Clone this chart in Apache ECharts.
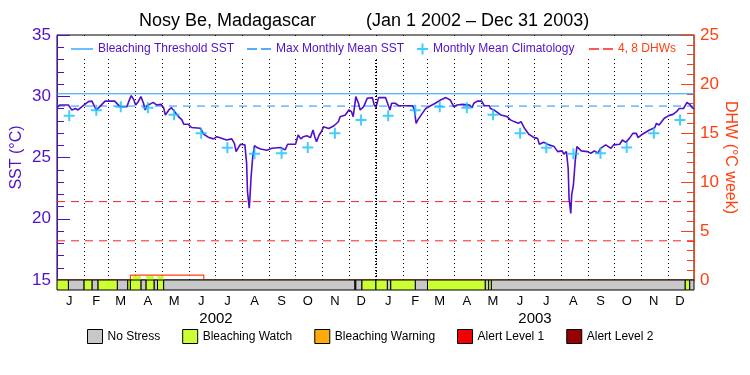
<!DOCTYPE html>
<html>
<head>
<meta charset="utf-8">
<script src="https://cdn.jsdelivr.net/npm/echarts@6/dist/echarts.min.js"></script>
<style>html,body{margin:0;padding:0;background:#fff}#main{width:750px;height:375px}</style>
</head>
<body>
<div id="main"></div>
<script>
// SST (day offset from Jan 1 2002, value in degC)
var sstDay = [0, 3, 13, 15, 17, 21, 24, 30, 36, 40, 43, 45, 49, 55, 66, 72, 80, 82, 85, 88, 90, 93, 96, 99, 101, 103, 106, 110, 114, 119, 122, 124, 128, 131, 134, 139, 143, 145, 150, 154, 164, 168, 173, 179, 183,
  185, 189, 194, 200, 203, 205, 207, 210, 215, 217, 218, 220, 221, 222, 224, 226, 229, 233, 240, 246, 256, 258, 261, 264, 273, 276, 279, 282, 284, 286, 290, 293, 295, 297, 300, 303, 305, 311, 317, 322, 324, 330, 334, 337, 339, 342, 345, 347, 351, 355, 361, 363, 365,
  368, 376, 379, 381, 383, 387, 391, 407, 409, 411, 413, 418, 422, 427, 433, 439, 445, 450, 454, 458, 464, 472, 475, 477, 481, 486, 489, 495, 496, 500, 508, 515, 519, 523, 528, 531, 535, 540, 546, 550,
  552, 557, 563, 569, 573, 578, 580, 583, 585, 586, 588, 589, 591, 593, 595, 600, 607, 611, 615, 619, 622, 628, 634, 637, 644, 647, 651, 655, 659, 663, 665, 670, 678, 684, 686, 689, 695, 700, 705, 709, 712, 717, 721, 724, 727, 729];
var sstValue = [29.07, 29.29, 29.29, 29.07, 28.88, 29.0, 28.88, 29.23, 29.56, 29.6, 29.15, 28.88, 29.15, 29.6, 29.6, 29.15, 29.15, 29.56, 30.05, 29.7, 29.29, 29.56, 29.97, 29.43, 28.88, 29.23, 29.34, 29.5, 29.29, 29.34, 29.07, 28.47, 28.88, 29.07, 28.8, 28.34, 28.07, 27.72, 27.72, 27.45, 27.39, 26.9, 26.66, 26.52, 26.7,
  26.78, 26.56, 26.43, 26.52, 26.16, 25.48, 25.75, 26.08, 26.03, 24.53, 22.22, 20.86, 21.95, 23.31, 25.08, 25.97, 25.81, 25.7, 25.59, 25.75, 25.81, 25.89, 25.62, 26.08, 26.08, 26.84, 26.52, 26.7, 26.56, 26.78, 26.62, 27.24, 26.7, 26.29, 26.84, 27.16, 27.51, 27.37, 27.59, 27.92, 28.33, 28.47, 28.88, 28.74, 28.33, 29.97, 29.43, 28.88, 29.15, 29.83, 29.89, 29.29, 29.1,
  29.89, 29.89, 29.29, 28.88, 29.43, 29.43, 29.23, 29.23, 28.88, 27.79, 28.07, 28.6, 29.0, 29.2, 29.43, 29.7, 29.89, 29.7, 29.15, 29.29, 29.34, 29.29, 29.07, 29.43, 29.6, 29.6, 29.23, 29.23, 29.0, 28.88, 28.47, 28.34, 28.07, 27.93, 27.79, 27.93, 27.39, 26.9, 26.62, 26.56,
  26.08, 26.24, 26.03, 25.89, 25.48, 25.54, 25.27, 25.48, 24.12, 21.67, 20.44, 21.95, 22.76, 24.67, 25.89, 25.54, 25.48, 25.35, 25.54, 25.35, 25.75, 26.03, 25.75, 26.03, 26.08, 26.43, 26.24, 26.56, 26.97, 26.97, 26.62, 26.9, 27.24, 27.43, 27.79, 27.65, 28.2, 28.42, 28.52, 28.74, 29.0, 29.0, 29.5, 29.34, 29.07, 28.96];

// monthly mean climatology, Jan..Dec
var climMonthly = [28.4, 28.85, 29.15, 29.07, 28.48, 26.98, 25.8, 25.3, 25.35, 25.82, 26.97, 28.06];
var mmmSST = 29.2;
var thresholdSST = 30.2;
var dhwLevels = [4, 8];

// degree heating weeks
var dhwDay = [0, 84, 84, 168, 168, 729];
var dhwValue = [0, 0, 0.5, 0.5, 0, 0];
var watchFillStart = [86, 102, 115];
var watchFillEnd = [96, 111, 122];

// stress level bar: 0 no stress, 1 watch, 2 warning, 3 alert 1, 4 alert 2
var statusStart = [0, 13, 31, 40, 47, 69, 81, 84, 96, 102, 111, 115, 122, 341, 342, 349, 365, 378, 382, 410, 424, 490, 494, 497, 719, 724];
var statusEnd   = [13, 31, 40, 47, 69, 81, 84, 96, 102, 111, 115, 122, 341, 342, 349, 365, 378, 382, 410, 424, 490, 494, 497, 719, 724, 729];
var statusLevel = [1, 0, 1, 0, 1, 0, 1, 1, 0, 1, 0, 1, 0, 0, 0, 1, 1, 0, 1, 0, 1, 0, 1, 0, 1, 0];
var statusNames = ['No Stress', 'Bleaching Watch', 'Bleaching Warning', 'Alert Level 1', 'Alert Level 2'];
var statusColors = ['#c8c8c8', '#ccff33', '#fcaa0e', '#f00000', '#960000'];

var monthLetters = ['J', 'F', 'M', 'A', 'M', 'J', 'J', 'A', 'S', 'O', 'N', 'D'];

var FONT = '"Liberation Sans",Arial,sans-serif';
var PURPLE = '#5010c8';
var ORANGE = '#ff4010';
var DHWRED = '#ff2020';

var days = [];
for (var i = 0; i < 730; i++) {
  days.push(new Date(Date.UTC(2002, 0, 1 + i)).toISOString().slice(0, 10));
}
function dom(i) { return +days[i].slice(8, 10); }

var sstData = sstDay.map(function (d, k) { return [d, sstValue[k]]; });
var climData = [];
days.forEach(function (s, k) {
  if (dom(k) === 15) climData.push([k, climMonthly[+s.slice(5, 7) - 1]]);
});
var dhwData = dhwDay.map(function (d, k) { return [d, dhwValue[k]]; });
var watchFill = watchFillStart.map(function (d, k) { return [d, watchFillEnd[k]]; });

var plusPath = 'path://M4.5,0H6.5V11H4.5Z M0,4.5H11V6.5H0Z';
var dashPath = 'path://M0,0H10V1.3H0Z M14,0H24V1.3H14Z';
var solidPath = 'path://M0,0H22V1.3H0Z';

function renderStatus(params, api) {
  var p0 = api.coord([api.value(0), 1]);
  var p1 = api.coord([api.value(1), 0]);
  return {
    type: 'rect',
    shape: { x: p0[0], y: p0[1], width: p1[0] - p0[0], height: p1[1] - p0[1] },
    style: { fill: api.visual('color'), stroke: '#000', lineWidth: 1 }
  };
}
function renderWatchFill(params, api) {
  var p0 = api.coord([api.value(0), 0.42]);
  var p1 = api.coord([api.value(1), 0]);
  return {
    type: 'rect',
    shape: { x: p0[0], y: p0[1], width: p1[0] - p0[0], height: p1[1] - p0[1] },
    style: { fill: statusColors[1] }
  };
}

var statusSeries = statusNames.map(function (name, lv) {
  var data = [];
  statusLevel.forEach(function (l, k) { if (l === lv) data.push([statusStart[k], statusEnd[k]]); });
  return {
    name: name, type: 'custom', xAxisIndex: 1, yAxisIndex: 2,
    itemStyle: { color: statusColors[lv] }, color: statusColors[lv],
    renderItem: renderStatus, encode: { x: [0, 1] }, data: data, z: 10, silent: true
  };
});

var dhwLevelSeries = dhwLevels.map(function (v) {
  return {
    name: '4, 8 DHWs', type: 'line', xAxisIndex: 0, yAxisIndex: 1,
    data: [[0, v], [729, v]], showSymbol: false, silent: true,
    color: DHWRED, itemStyle: { color: DHWRED }, lineStyle: { color: DHWRED, width: 1, type: [8, 6] }
  };
});

function topLegend(name, icon, left, w, color) {
  return {
    left: left, top: 43, padding: 0, itemWidth: w, itemHeight: 11, itemGap: 0, selectedMode: false, z: 60,
    itemStyle: { borderWidth: 0 },
    textStyle: { fontFamily: FONT, fontSize: 12, color: color },
    data: [{ name: name, icon: icon }]
  };
}

var myChart = echarts.init(document.getElementById('main'));
var option = {
  animation: false,
  title: [
    { text: 'Nosy Be, Madagascar', left: 139, top: 12, padding: 0, textStyle: { fontFamily: FONT, fontSize: 18, fontWeight: 'normal', color: '#000' } },
    { text: '(Jan 1 2002 \u2013 Dec 31 2003)', left: 366, top: 12, padding: 0, textStyle: { fontFamily: FONT, fontSize: 18, fontWeight: 'normal', color: '#000' } }
  ],
  graphic: [
    // keeps the month dividers clear of the legend row, as in the original
    { type: 'rect', left: 65, top: 36, z: 50, shape: { width: 621, height: 23 }, style: { fill: '#fff' }, silent: true }
  ],
  legend: [
    topLegend('Bleaching Threshold SST', solidPath, 71, 22, PURPLE),
    topLegend('Max Monthly Mean SST', dashPath, 247, 24, PURPLE),
    topLegend('Monthly Mean Climatology', plusPath, 417, 11, PURPLE),
    topLegend('4, 8 DHWs', dashPath, 589, 24, ORANGE),
    {
      left: 87, top: 329, padding: 0, itemWidth: 15, itemHeight: 14, itemGap: 22, icon: 'rect', selectedMode: false,
      itemStyle: { borderColor: '#000', borderWidth: 1 },
      textStyle: { fontFamily: FONT, fontSize: 12, color: '#000' },
      data: statusNames
    }
  ],
  grid: [
    { left: 57, right: 56, top: 35, bottom: 95, show: true, borderColor: '#000', borderWidth: 1, outerBoundsMode: 'none' },
    { left: 57, right: 56, top: 280, height: 10, outerBoundsMode: 'none' }
  ],
  xAxis: [
    {
      gridIndex: 0, type: 'category', data: days, boundaryGap: false,
      axisLine: { show: false }, axisTick: { show: false }, axisLabel: { show: false },
      splitLine: {
        show: true,
        interval: function (k) { return k > 0 && dom(k) === 1; },
        lineStyle: { color: '#000', type: [1, 3], width: 1 }
      }
    },
    {
      gridIndex: 1, type: 'category', data: days, boundaryGap: false, position: 'bottom',
      axisLine: { show: false }, axisTick: { show: false }, splitLine: { show: false },
      axisLabel: {
        interval: function (k) { return dom(k) === 15; },
        formatter: function (v) { return monthLetters[+v.slice(5, 7) - 1]; },
        fontFamily: FONT, fontSize: 13, color: '#000', margin: 5
      }
    },
    {
      gridIndex: 1, type: 'category', data: days, boundaryGap: false, position: 'bottom', offset: 16,
      axisLine: { show: false }, axisTick: { show: false }, splitLine: { show: false },
      axisLabel: {
        interval: function (k) { return days[k].slice(5) === '07-02'; },
        formatter: function (v) { return v.slice(0, 4); },
        fontFamily: FONT, fontSize: 15, color: '#000', margin: 5
      }
    }
  ],
  yAxis: [
    {
      gridIndex: 0, type: 'value', position: 'left', min: 15, max: 35, interval: 5,
      axisLine: { show: true, lineStyle: { color: PURPLE, width: 1 } },
      axisTick: { show: true, inside: true, length: 13, lineStyle: { color: PURPLE } },
      minorTick: { show: true, splitNumber: 5, length: 7, lineStyle: { color: PURPLE } },
      splitLine: { show: false },
      axisLabel: { color: PURPLE, fontFamily: FONT, fontSize: 17, margin: 6 },
      name: 'SST (\u00b0C)', nameLocation: 'middle', nameGap: 32, nameRotate: 90, nameMoveOverlap: false,
      nameTextStyle: { color: PURPLE, fontFamily: FONT, fontSize: 16 }
    },
    {
      gridIndex: 0, type: 'value', position: 'right', min: 0, max: 25, interval: 5,
      axisLine: { show: true, lineStyle: { color: ORANGE, width: 1 } },
      axisTick: { show: true, inside: true, length: 13, lineStyle: { color: ORANGE } },
      minorTick: { show: true, splitNumber: 5, length: 7, lineStyle: { color: ORANGE } },
      splitLine: { show: false },
      axisLabel: { color: ORANGE, fontFamily: FONT, fontSize: 17, margin: 6 },
      name: 'DHW (\u00b0C week)', nameLocation: 'middle', nameGap: 28, nameRotate: -90, nameMoveOverlap: false,
      nameTextStyle: { color: ORANGE, fontFamily: FONT, fontSize: 16 }
    },
    { gridIndex: 1, type: 'value', min: 0, max: 1, show: false }
  ],
  series: [
    {
      name: 'Bleaching Threshold SST', type: 'line', xAxisIndex: 0, yAxisIndex: 0,
      data: [[0, thresholdSST], [729, thresholdSST]], showSymbol: false, silent: true,
      color: '#1e9bff', itemStyle: { color: '#1e9bff' }, lineStyle: { color: '#1e9bff', width: 1 }
    },
    {
      name: 'Max Monthly Mean SST', type: 'line', xAxisIndex: 0, yAxisIndex: 0,
      data: [[0, mmmSST], [729, mmmSST]], showSymbol: false, silent: true,
      color: '#1e90ff', itemStyle: { color: '#1e90ff' }, lineStyle: { color: '#1e90ff', width: 1, type: [8, 6] }
    },
    {
      name: 'SST', type: 'line', xAxisIndex: 0, yAxisIndex: 0, data: sstData, showSymbol: false, z: 4,
      color: PURPLE, lineStyle: { color: PURPLE, width: 1.6 },
      markLine: {
        silent: true, symbol: 'none', label: { show: false },
        lineStyle: { color: '#000', type: [1, 2], width: 2 },
        data: [{ xAxis: days[365] }]
      }
    },
    {
      name: 'Monthly Mean Climatology', type: 'scatter', xAxisIndex: 0, yAxisIndex: 0,
      data: climData, symbol: plusPath, symbolSize: 11, z: 5,
      color: '#14c0ff', itemStyle: { color: '#14c0ff' }
    },
    {
      name: 'watch fill', type: 'custom', xAxisIndex: 0, yAxisIndex: 1, silent: true,
      renderItem: renderWatchFill, encode: { x: [0, 1] }, data: watchFill, z: 2
    },
    {
      name: 'DHW', type: 'line', xAxisIndex: 0, yAxisIndex: 1, data: dhwData, showSymbol: false, z: 3,
      color: ORANGE, lineStyle: { color: ORANGE, width: 1.2 }
    }
  ].concat(dhwLevelSeries, statusSeries)
};
myChart.setOption(option);
</script>
</body>
</html>
